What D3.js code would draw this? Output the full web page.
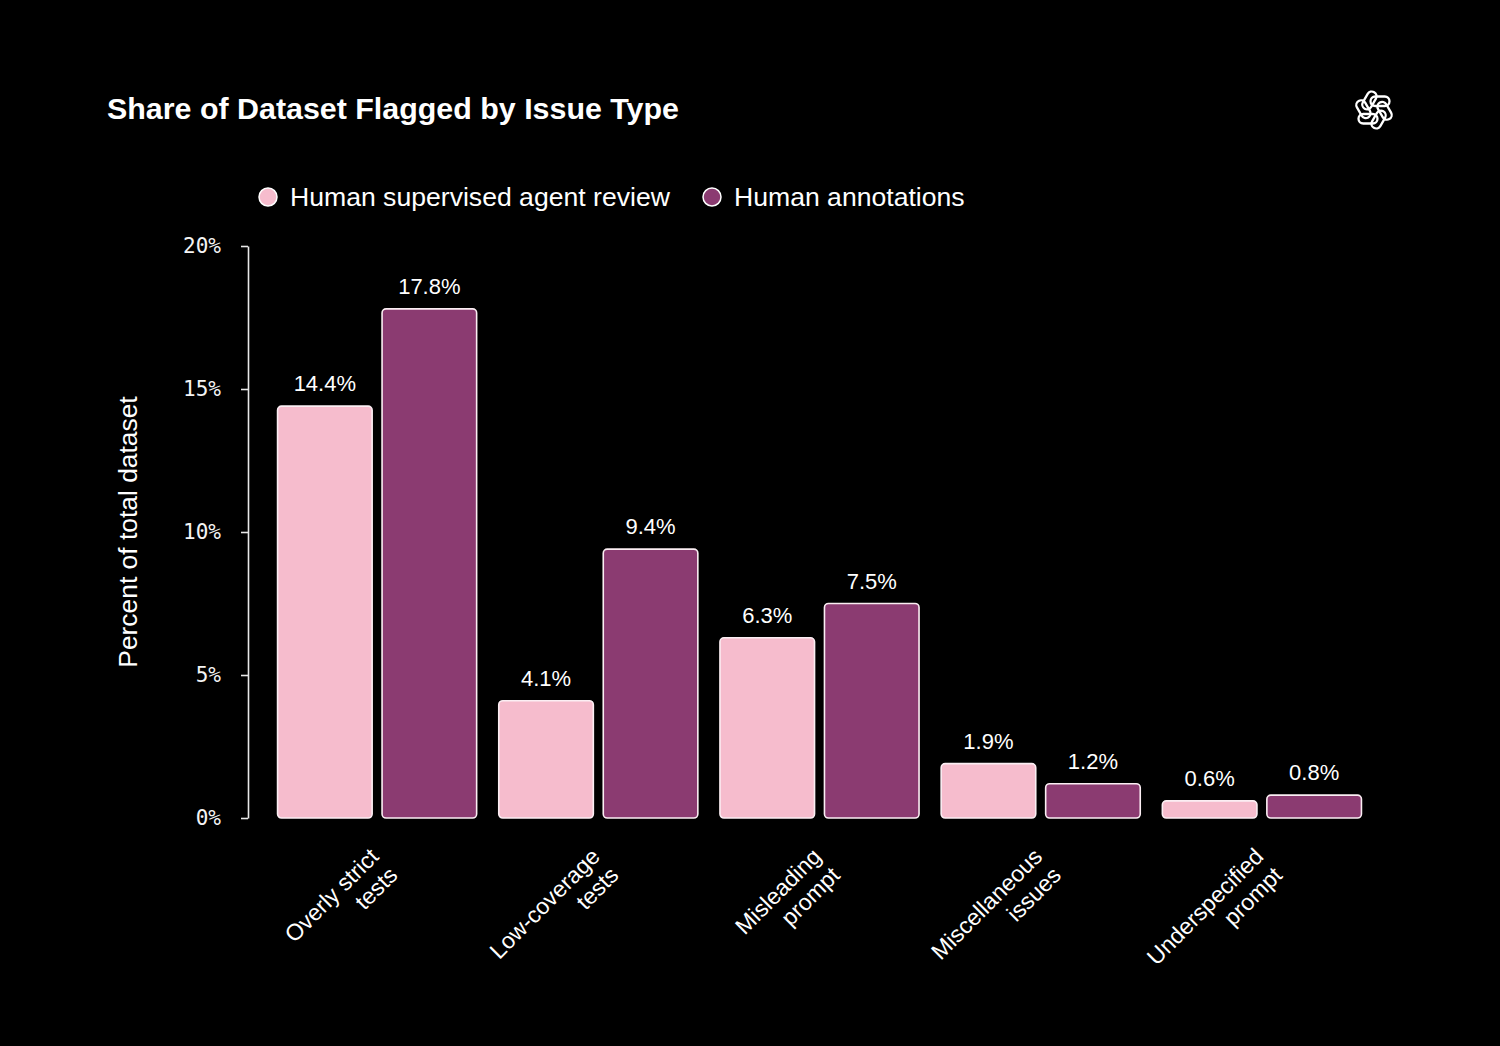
<!DOCTYPE html>
<html>
<head>
<meta charset="utf-8">
<script src="https://cdn.jsdelivr.net/npm/d3@7"></script>
<style>
  html, body { margin: 0; padding: 0; background: #000; }
  svg { display: block; }
</style>
</head>
<body>
<svg id="chart"></svg>
<script>
'use strict';

// chart data
const categories = ['Overly strict\ntests', 'Low-coverage\ntests', 'Misleading\nprompt', 'Miscellaneous\nissues', 'Underspecified\nprompt'];
const seriesNames = ['Human supervised agent review', 'Human annotations'];
const agentReview = [14.4, 4.1, 6.3, 1.9, 0.6];
const humanAnnotations = [17.8, 9.4, 7.5, 1.2, 0.8];
const yTicks = [0, 5, 10, 15, 20];

const width = 1500;
const height = 1046;
const colors = ['#f6bccd', '#8b3b71'];
const sans = '"Liberation Sans", Arial, Helvetica, sans-serif';

const svg = d3.select('#chart')
    .attr('width', width)
    .attr('height', height);

svg.append('rect')
    .attr('width', width)
    .attr('height', height)
    .attr('fill', '#000');

/**
 * scales
 */
const x0 = d3.scaleBand()
    .domain(categories)
    .range([266.5, 1372.5])
    .paddingInner(0.1)
    .paddingOuter(0.05);
const x1 = d3.scaleBand()
    .domain(seriesNames)
    .range([0, x0.bandwidth()])
    .paddingInner(0.095);
const y = d3.scaleLinear()
    .domain([0, 20])
    .range([818, 246]);

/**
 * title
 */
svg.append('text')
    .attr('x', 107)
    .attr('y', 119)
    .attr('fill', '#fff')
    .style('font-family', sans)
    .style('font-weight', 'bold')
    .style('font-size', '30.4px')
    .text('Share of Dataset Flagged by Issue Type');

/**
 * logo (rough take on the knot mark)
 */
const logo = svg.append('g')
    .attr('transform', 'translate(1374,110)');
d3.range(6).forEach((i) => {
  logo.append('rect')
      .attr('x', -3.5)
      .attr('y', -13.5)
      .attr('width', 19)
      .attr('height', 9.5)
      .attr('rx', 4.75)
      .attr('fill', 'none')
      .attr('stroke', '#fff')
      .attr('stroke-width', 2.3)
      .attr('transform', 'rotate(' + (i * 60) + ')');
});

/**
 * legend
 */
const legendX = [268, 712];
const legend = svg.append('g');
seriesNames.forEach((name, i) => {
  legend.append('circle')
      .attr('cx', legendX[i])
      .attr('cy', 197)
      .attr('r', 9)
      .attr('fill', colors[i])
      .attr('stroke', '#fff')
      .attr('stroke-width', 1.5);
  legend.append('text')
      .attr('x', legendX[i] + 22)
      .attr('y', 206)
      .attr('fill', '#fff')
      .style('font-family', sans)
      .style('font-size', '26.6px')
      .text(name);
});

/**
 * y axis
 */
const yAxis = svg.append('g')
    .attr('transform', 'translate(248,0)')
    .call(d3.axisLeft(y)
        .tickValues(yTicks)
        .tickSizeInner(7)
        .tickSizeOuter(0)
        .tickPadding(20)
        .tickFormat((d) => d + '%'));
yAxis.select('.domain')
    .attr('stroke', '#e8e8e8')
    .attr('stroke-width', 1.6);
yAxis.selectAll('.tick line')
    .attr('stroke', '#e8e8e8')
    .attr('stroke-width', 1.6);
yAxis.selectAll('.tick text')
    .attr('fill', '#f4f4f4')
    .style('font-family', '"DejaVu Sans Mono", monospace')
    .style('font-size', '21px');

svg.append('text')
    .attr('transform', 'translate(137,532) rotate(-90)')
    .attr('text-anchor', 'middle')
    .attr('fill', '#fff')
    .style('font-family', sans)
    .style('font-size', '26.4px')
    .text('Percent of total dataset');

/**
 * bars
 */
const rows = categories.map((c, i) => ({
  category: c,
  values: [agentReview[i], humanAnnotations[i]]
}));

const groups = svg.selectAll('g.group')
    .data(rows)
    .enter().append('g')
    .attr('class', 'group')
    .attr('transform', (d) => 'translate(' + x0(d.category) + ',0)');

const bars = groups.selectAll('g.bar')
    .data((d) => d.values.map((v, i) => ({ series: seriesNames[i], value: v, idx: i })))
    .enter().append('g')
    .attr('class', 'bar');

bars.append('rect')
    .attr('x', (d) => x1(d.series))
    .attr('y', (d) => y(d.value))
    .attr('width', x1.bandwidth())
    .attr('height', (d) => y(0) - y(d.value))
    .attr('rx', 4)
    .attr('fill', (d) => colors[d.idx])
    .attr('stroke', '#fbeef3')
    .attr('stroke-width', 1.6);

bars.append('text')
    .attr('x', (d) => x1(d.series) + x1.bandwidth() / 2)
    .attr('y', (d) => y(d.value) - 15)
    .attr('text-anchor', 'middle')
    .attr('fill', '#fff')
    .style('font-family', sans)
    .style('font-size', '22px')
    .text((d) => d.value.toFixed(1) + '%');

/**
 * x labels, rotated, two lines
 */
groups.append('text')
    .attr('transform', (d) => 'translate(' + (x0.bandwidth() / 2 + 3) + ',858) rotate(-45)')
    .attr('text-anchor', 'end')
    .attr('fill', '#fff')
    .style('font-family', sans)
    .style('font-size', '23px')
    .selectAll('tspan')
    .data((d) => d.category.split('\n'))
    .enter().append('tspan')
    .attr('x', 0)
    .attr('dy', (d, i) => i === 0 ? 0 : '1.15em')
    .text((d) => d);
</script>
</body>
</html>
